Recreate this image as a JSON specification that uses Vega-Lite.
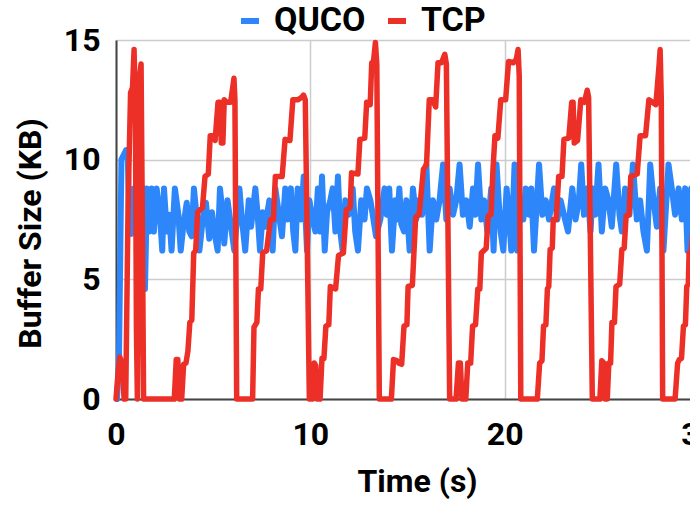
{
  "$schema": "https://vega.github.io/schema/vega-lite/v6.json",
  "autosize": "none",
  "width": 583,
  "height": 359,
  "padding": {"left": 116, "top": 40, "right": 0, "bottom": 106},
  "background": "white",
  "config": {
    "view": {"stroke": null},
    "font": "Roboto",
    "axis": {"labelFont": "Roboto", "titleFont": "Roboto", "labelFontWeight": "bold", "titleFontWeight": "bold", "labelColor": "#000000", "titleColor": "#000000", "labelFontSize": 32, "titleFontSize": 32, "gridColor": "#cccccc", "gridWidth": 1.5, "ticks": false, "domainWidth": 2, "domainColor": "#444444"},
    "legend": {"labelFont": "Roboto", "labelFontWeight": "bold", "labelFontSize": 34, "labelColor": "#000000"}
  },
  "datasets": {
    "tcp": [
      {"t":0.0,"v":0},{"t":0.12,"v":1.2},{"t":0.2,"v":1.75},{"t":0.3,"v":1.5},{"t":0.42,"v":0},{"t":0.5,"v":0},{"t":0.62,"v":8},{"t":0.75,"v":12.8},{"t":0.85,"v":13.0},{"t":0.93,"v":14.6},{"t":1.0,"v":12},{"t":1.05,"v":3},{"t":1.1,"v":0},{"t":1.15,"v":5},{"t":1.22,"v":13.5},{"t":1.29,"v":14.0},{"t":1.35,"v":8},{"t":1.42,"v":0},
      {"t":3.0,"v":0},{"t":3.1,"v":1.65},{"t":3.18,"v":1.65},{"t":3.28,"v":0},{"t":3.38,"v":0},{"t":3.48,"v":1.45},{"t":3.6,"v":1.5},{"t":3.7,"v":2.0},{"t":3.8,"v":3.2},{"t":3.9,"v":3.3},{"t":4.0,"v":6.1},{"t":4.1,"v":6.2},{"t":4.2,"v":7.8},{"t":4.45,"v":8.0},{"t":4.58,"v":9.3},{"t":4.75,"v":9.4},{"t":4.85,"v":11.0},{"t":5.0,"v":11.0},{"t":5.1,"v":10.8},{"t":5.25,"v":12.4},{"t":5.35,"v":12.4},{"t":5.42,"v":10.7},{"t":5.5,"v":10.7},{"t":5.57,"v":12.5},{"t":5.7,"v":12.4},{"t":5.9,"v":12.4},{"t":6.07,"v":13.4},{"t":6.12,"v":12.5},{"t":6.21,"v":0},
      {"t":7.03,"v":0},{"t":7.1,"v":3.0},{"t":7.25,"v":3.2},{"t":7.33,"v":4.6},{"t":7.45,"v":4.6},{"t":7.55,"v":6.1},{"t":7.75,"v":6.2},{"t":7.95,"v":7.5},{"t":8.1,"v":7.5},{"t":8.2,"v":9.3},{"t":8.55,"v":9.3},{"t":8.7,"v":10.85},{"t":8.95,"v":10.8},{"t":9.1,"v":12.5},{"t":9.35,"v":12.5},{"t":9.55,"v":12.6},{"t":9.65,"v":12.7},{"t":9.74,"v":12.5},{"t":9.95,"v":0},
      {"t":10.1,"v":0},{"t":10.2,"v":1.5},{"t":10.28,"v":1.4},{"t":10.34,"v":0},{"t":10.5,"v":0},{"t":10.6,"v":1.7},{"t":10.7,"v":1.7},{"t":10.8,"v":3.05},{"t":10.95,"v":3.1},{"t":11.03,"v":4.7},{"t":11.3,"v":4.6},{"t":11.45,"v":6.0},{"t":11.7,"v":6.1},{"t":11.85,"v":7.9},{"t":12.05,"v":8.0},{"t":12.12,"v":9.45},{"t":12.45,"v":9.4},{"t":12.55,"v":10.85},{"t":12.8,"v":10.9},{"t":12.9,"v":12.4},{"t":13.08,"v":12.3},{"t":13.16,"v":14.05},{"t":13.25,"v":14.1},{"t":13.35,"v":14.9},{"t":13.42,"v":14.0},{"t":13.55,"v":0},
      {"t":14.17,"v":0},{"t":14.28,"v":1.65},{"t":14.45,"v":1.6},{"t":14.55,"v":1.5},{"t":14.7,"v":1.45},{"t":14.82,"v":3.05},{"t":14.97,"v":3.1},{"t":15.03,"v":4.7},{"t":15.25,"v":4.75},{"t":15.42,"v":7.6},{"t":15.6,"v":7.7},{"t":15.82,"v":9.6},{"t":15.98,"v":9.8},{"t":16.12,"v":12.5},{"t":16.3,"v":12.5},{"t":16.45,"v":12.2},{"t":16.57,"v":14.05},{"t":16.75,"v":14.05},{"t":16.92,"v":14.4},{"t":17.0,"v":14.0},{"t":17.17,"v":0},
      {"t":17.5,"v":0},{"t":17.62,"v":1.5},{"t":17.72,"v":1.5},{"t":17.8,"v":0},{"t":18.0,"v":0},{"t":18.1,"v":1.5},{"t":18.25,"v":1.5},{"t":18.35,"v":3.05},{"t":18.5,"v":3.1},{"t":18.62,"v":4.6},{"t":18.72,"v":4.6},{"t":18.8,"v":6.1},{"t":19.05,"v":6.3},{"t":19.15,"v":7.65},{"t":19.3,"v":7.7},{"t":19.4,"v":9.6},{"t":19.5,"v":11.0},{"t":19.65,"v":10.9},{"t":19.8,"v":12.5},{"t":20.05,"v":12.5},{"t":20.2,"v":14.1},{"t":20.45,"v":14.05},{"t":20.6,"v":14.2},{"t":20.69,"v":14.6},{"t":20.75,"v":13.5},{"t":20.83,"v":0},
      {"t":21.68,"v":0},{"t":21.8,"v":1.5},{"t":21.92,"v":1.6},{"t":22.0,"v":3.05},{"t":22.12,"v":3.1},{"t":22.2,"v":4.6},{"t":22.27,"v":4.7},{"t":22.34,"v":6.25},{"t":22.45,"v":6.3},{"t":22.5,"v":7.5},{"t":22.65,"v":7.5},{"t":22.78,"v":9.3},{"t":22.95,"v":9.3},{"t":23.05,"v":10.85},{"t":23.3,"v":10.9},{"t":23.45,"v":12.4},{"t":23.52,"v":12.4},{"t":23.58,"v":10.7},{"t":23.75,"v":10.8},{"t":23.92,"v":12.5},{"t":24.1,"v":12.4},{"t":24.25,"v":12.9},{"t":24.32,"v":12.6},{"t":24.51,"v":0},
      {"t":24.9,"v":0},{"t":25.0,"v":1.6},{"t":25.1,"v":1.5},{"t":25.17,"v":0},{"t":25.28,"v":0},{"t":25.36,"v":1.5},{"t":25.45,"v":1.5},{"t":25.52,"v":3.2},{"t":25.65,"v":3.2},{"t":25.73,"v":4.7},{"t":25.92,"v":4.8},{"t":26.03,"v":6.25},{"t":26.15,"v":6.3},{"t":26.25,"v":7.65},{"t":26.4,"v":7.7},{"t":26.49,"v":9.3},{"t":26.82,"v":9.4},{"t":26.97,"v":11.0},{"t":27.25,"v":11.0},{"t":27.42,"v":12.5},{"t":27.78,"v":12.3},{"t":27.95,"v":14.0},{"t":28.0,"v":14.6},{"t":28.06,"v":12.5},{"t":28.13,"v":0},
      {"t":28.77,"v":0},{"t":28.9,"v":1.5},{"t":28.99,"v":1.65},{"t":29.1,"v":1.7},{"t":29.2,"v":3.05},{"t":29.3,"v":3.1},{"t":29.37,"v":4.7},{"t":29.45,"v":4.8},{"t":29.49,"v":6.1},{"t":29.6,"v":6.2},{"t":29.72,"v":7.5},{"t":29.85,"v":7.5},{"t":30.0,"v":8.0}
    ],
    "quco": [
      {"t":0.05,"v":0},{"t":0.15,"v":1.5},{"t":0.28,"v":10.0},{"t":0.4,"v":10.2},{"t":0.52,"v":10.4},{"t":0.6,"v":10.4},{"t":0.68,"v":7.3},{"t":0.8,"v":6.9},{"t":0.92,"v":8.8},{"t":1.05,"v":7.5},{"t":1.2,"v":6.5},{"t":1.32,"v":8.8},{"t":1.42,"v":8.8},{"t":1.49,"v":4.6},{"t":1.54,"v":6.5},{"t":1.58,"v":8.8},{"t":1.71,"v":7.0},{"t":1.83,"v":8.8},{"t":1.95,"v":7.0},{"t":2.09,"v":8.8},{"t":2.26,"v":7.7},{"t":2.38,"v":6.2},{"t":2.47,"v":8.8},{"t":2.61,"v":7.0},{"t":2.74,"v":7.7},{"t":2.86,"v":6.2},{"t":3.03,"v":8.8},{"t":3.21,"v":7.7},{"t":3.33,"v":6.2},{"t":3.46,"v":7.2},{"t":3.64,"v":8.2},{"t":3.77,"v":7.0},{"t":3.89,"v":6.8},{"t":4.01,"v":8.8},{"t":4.15,"v":7.6},{"t":4.29,"v":6.2},{"t":4.49,"v":7.7},{"t":4.63,"v":8.2},{"t":4.8,"v":6.7},{"t":4.94,"v":7.8},{"t":5.06,"v":7.0},{"t":5.23,"v":6.2},{"t":5.35,"v":8.8},{"t":5.49,"v":7.7},{"t":5.57,"v":6.5},{"t":5.74,"v":8.3},{"t":5.92,"v":7.2},{"t":6.09,"v":6.2},{"t":6.35,"v":8.8},{"t":6.48,"v":7.5},{"t":6.65,"v":6.2},{"t":6.83,"v":8.3},{"t":6.95,"v":7.2},{"t":7.17,"v":8.8},{"t":7.29,"v":7.7},{"t":7.41,"v":6.2},{"t":7.55,"v":7.8},{"t":7.68,"v":7.2},{"t":7.89,"v":8.3},{"t":8.06,"v":6.2},{"t":8.2,"v":8.8},{"t":8.37,"v":7.8},{"t":8.54,"v":6.8},{"t":8.71,"v":8.8},{"t":8.83,"v":7.5},{"t":9.0,"v":8.8},{"t":9.12,"v":7.0},{"t":9.23,"v":6.2},{"t":9.35,"v":8.8},{"t":9.52,"v":7.5},{"t":9.66,"v":9.3},{"t":9.83,"v":6.2},{"t":9.95,"v":8.3},{"t":10.12,"v":7.5},{"t":10.26,"v":7.0},{"t":10.39,"v":8.8},{"t":10.51,"v":7.0},{"t":10.6,"v":9.3},{"t":10.74,"v":6.2},{"t":10.86,"v":7.8},{"t":11.03,"v":8.3},{"t":11.15,"v":8.8},{"t":11.29,"v":7.0},{"t":11.42,"v":9.3},{"t":11.54,"v":7.0},{"t":11.66,"v":6.2},{"t":11.8,"v":8.3},{"t":11.97,"v":7.7},{"t":12.18,"v":8.8},{"t":12.31,"v":7.0},{"t":12.45,"v":6.2},{"t":12.62,"v":8.3},{"t":12.79,"v":7.5},{"t":12.91,"v":8.8},{"t":13.09,"v":8.3},{"t":13.21,"v":7.7},{"t":13.38,"v":6.8},{"t":13.6,"v":7.5},{"t":13.82,"v":8.8},{"t":13.94,"v":7.7},{"t":14.06,"v":8.8},{"t":14.2,"v":6.2},{"t":14.37,"v":8.3},{"t":14.48,"v":7.5},{"t":14.58,"v":8.8},{"t":14.68,"v":7.3},{"t":14.82,"v":7.0},{"t":14.94,"v":8.3},{"t":15.11,"v":6.2},{"t":15.28,"v":8.8},{"t":15.45,"v":7.5},{"t":15.57,"v":8.3},{"t":15.75,"v":7.7},{"t":15.97,"v":9.8},{"t":16.14,"v":6.2},{"t":16.31,"v":8.3},{"t":16.48,"v":7.5},{"t":16.65,"v":8.3},{"t":16.83,"v":9.8},{"t":17.0,"v":7.5},{"t":17.17,"v":8.8},{"t":17.34,"v":7.7},{"t":17.51,"v":8.3},{"t":17.68,"v":9.8},{"t":17.85,"v":7.7},{"t":18.03,"v":8.3},{"t":18.2,"v":7.2},{"t":18.37,"v":8.8},{"t":18.49,"v":7.7},{"t":18.63,"v":9.8},{"t":18.8,"v":7.5},{"t":18.94,"v":8.3},{"t":19.11,"v":7.0},{"t":19.31,"v":8.8},{"t":19.43,"v":6.2},{"t":19.58,"v":9.8},{"t":19.79,"v":7.0},{"t":19.93,"v":6.2},{"t":20.1,"v":8.8},{"t":20.22,"v":7.7},{"t":20.34,"v":6.2},{"t":20.51,"v":9.8},{"t":20.65,"v":6.2},{"t":20.82,"v":8.3},{"t":20.96,"v":7.5},{"t":21.08,"v":8.8},{"t":21.25,"v":7.7},{"t":21.37,"v":8.8},{"t":21.51,"v":6.2},{"t":21.77,"v":9.8},{"t":21.94,"v":7.7},{"t":22.11,"v":8.3},{"t":22.28,"v":7.5},{"t":22.54,"v":8.8},{"t":22.71,"v":7.5},{"t":22.88,"v":8.3},{"t":23.05,"v":7.7},{"t":23.26,"v":7.0},{"t":23.48,"v":8.8},{"t":23.65,"v":7.5},{"t":23.82,"v":8.3},{"t":23.94,"v":9.8},{"t":24.08,"v":7.7},{"t":24.25,"v":8.8},{"t":24.42,"v":7.0},{"t":24.53,"v":8.8},{"t":24.66,"v":7.7},{"t":24.83,"v":9.8},{"t":25.0,"v":7.0},{"t":25.17,"v":8.8},{"t":25.34,"v":8.3},{"t":25.51,"v":7.2},{"t":25.74,"v":9.8},{"t":25.91,"v":7.7},{"t":26.03,"v":7.0},{"t":26.2,"v":8.8},{"t":26.42,"v":7.7},{"t":26.6,"v":9.8},{"t":26.8,"v":7.5},{"t":26.97,"v":8.3},{"t":27.14,"v":7.0},{"t":27.32,"v":6.2},{"t":27.49,"v":9.8},{"t":27.66,"v":8.3},{"t":27.83,"v":7.2},{"t":28.0,"v":8.8},{"t":28.17,"v":6.2},{"t":28.43,"v":9.8},{"t":28.6,"v":8.8},{"t":28.77,"v":7.7},{"t":28.95,"v":8.8},{"t":29.12,"v":7.5},{"t":29.29,"v":8.8},{"t":29.41,"v":6.2},{"t":29.6,"v":8.8},{"t":29.8,"v":7.7},{"t":30.0,"v":8.3}
    ]
  },
  "layer": [
    {
      "data": {"name": "quco"},
      "transform": [{"calculate": "'QUCO'", "as": "series"}],
      "mark": {"type": "line", "strokeWidth": 6, "strokeJoin": "round", "strokeCap": "round"},
      "encoding": {
        "x": {"field": "t", "type": "quantitative", "scale": {"domain": [0, 30], "nice": false},
          "axis": {"values": [0, 10, 20, 30], "title": "Time (s)", "labelPadding": 20, "titlePadding": 16, "titleX": 301, "labelFlush": false}},
        "y": {"field": "v", "type": "quantitative", "scale": {"domain": [0, 15], "nice": false},
          "axis": {"values": [0, 5, 10, 15], "title": "Buffer Size (KB)", "labelPadding": 16, "titleX": -86, "titleY": 193, "titleBaseline": "middle", "titleAlign": "center"}},
        "color": {"field": "series", "type": "nominal",
          "scale": {"domain": ["QUCO", "TCP"], "range": ["#2d87fb", "#ec3028"]},
          "legend": {"title": null, "orient": "none", "direction": "horizontal", "legendX": 117, "legendY": -36, "symbolType": "stroke", "symbolStrokeWidth": 6, "symbolSize": 324, "labelOffset": 7, "columnPadding": 10}}
      }
    },
    {
      "data": {"name": "tcp"},
      "transform": [{"calculate": "'TCP'", "as": "series"}],
      "mark": {"type": "line", "strokeWidth": 5.5, "strokeJoin": "round", "strokeCap": "round"},
      "encoding": {
        "x": {"field": "t", "type": "quantitative"},
        "y": {"field": "v", "type": "quantitative"},
        "color": {"field": "series", "type": "nominal"}
      }
    }
  ]
}
